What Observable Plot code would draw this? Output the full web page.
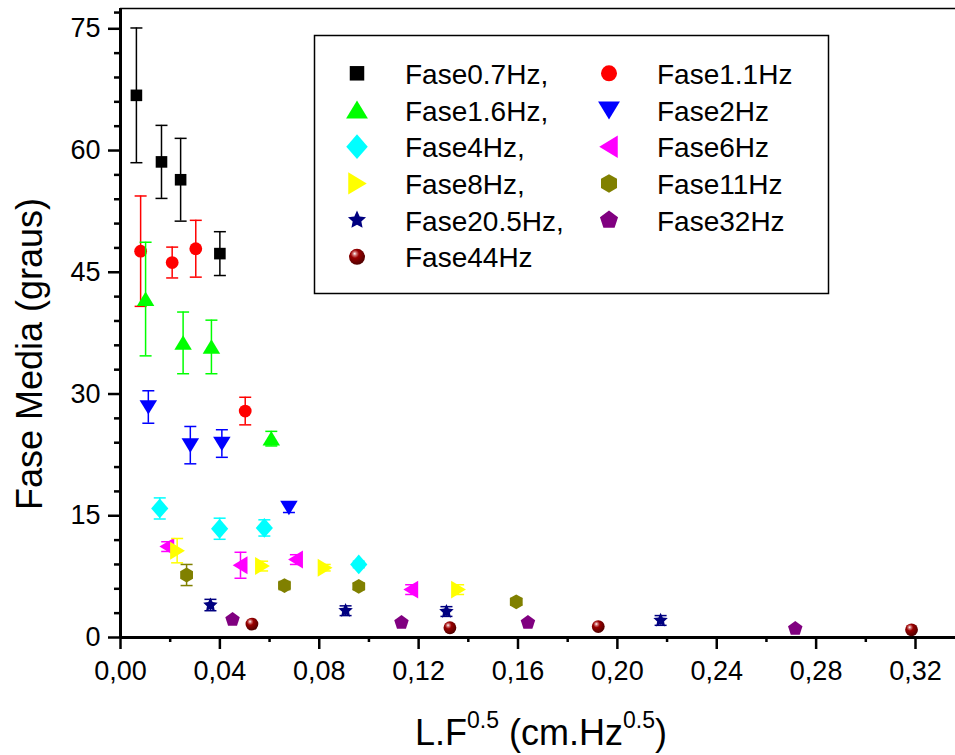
<!DOCTYPE html>
<html>
<head>
<meta charset="utf-8">
<script src="https://cdn.jsdelivr.net/npm/d3@7"></script>
<script src="https://cdn.jsdelivr.net/npm/@observablehq/plot@0.6"></script>
<style>
  body { margin: 0; background: #fff; }
  #chart { width: 955px; height: 755px; }
</style>
</head>
<body>
<div id="chart"></div>
<script>
// ---- Data ----
const seriesNames = ["Fase0.7Hz,", "Fase1.1Hz", "Fase1.6Hz,", "Fase2Hz", "Fase4Hz,", "Fase6Hz",
                     "Fase8Hz,", "Fase11Hz", "Fase20.5Hz,", "Fase32Hz", "Fase44Hz"];

const f07x = [0.0064, 0.0165, 0.0242, 0.0400];
const f07y = [66.8, 58.6, 56.4, 47.3];
const f07e = [8.3, 4.5, 5.1, 2.7];

const f11x = [0.0081, 0.0208, 0.0303, 0.0502];
const f11y = [47.6, 46.2, 47.9, 27.9];
const f11e = [6.8, 1.9, 3.5, 1.7];

const f16x = [0.0101, 0.0252, 0.0366, 0.0607];
const f16y = [41.7, 36.3, 35.8, 24.5];
const f16e = [7.0, 3.8, 3.3, 0.9];

const f2x = [0.0112, 0.0281, 0.0408, 0.0678];
const f2y = [28.4, 23.7, 23.9, 16.0];
const f2e = [2.0, 2.3, 1.7, 0.6];

const f4x = [0.0158, 0.0399, 0.0579, 0.0959];
const f4y = [15.9, 13.4, 13.5, 9.0];
const f4e = [1.3, 1.3, 1.0, 0.4];

const f6x = [0.0188, 0.0483, 0.0706, 0.1170];
const f6y = [11.2, 8.9, 9.6, 5.9];
const f6e = [0.6, 1.6, 0.6, 0.6];

const f8x = [0.0228, 0.0570, 0.0822, 0.1359];
const f8y = [10.7, 8.8, 8.6, 5.9];
const f8e = [1.5, 0.6, 0.4, 0.6];

const f11hx = [0.0266, 0.0660, 0.0959, 0.1593];
const f11hy = [7.7, 6.4, 6.3, 4.4];
const f11he = [1.3, 0.5, 0.4, 0.4];

const f205x = [0.0362, 0.0906, 0.1312, 0.2174];
const f205y = [4.0, 3.3, 3.2, 2.1];
const f205e = [0.7, 0.6, 0.6, 0.6];

const f32x = [0.0451, 0.1131, 0.1640, 0.2716];
const f32y = [2.2, 1.85, 1.85, 1.1];
const f32e = [0, 0, 0, 0];

const f44x = [0.0529, 0.1326, 0.1923, 0.3184];
const f44y = [1.65, 1.2, 1.35, 0.95];
const f44e = [0, 0, 0, 0];

const xTicks = [0, 0.04, 0.08, 0.12, 0.16, 0.20, 0.24, 0.28, 0.32];
const xMinorTicks = [0.02, 0.06, 0.10, 0.14, 0.18, 0.22, 0.26, 0.30];
const yTicks = [0, 15, 30, 45, 60, 75];
const yMinorTicks = [3, 6, 9, 12, 18, 21, 24, 27, 33, 36, 39, 42, 48, 51, 54, 57, 63, 66, 69, 72, 77];

// ---- Symbols ----
function sym(f) { return { draw(ctx, size) { const r = Math.sqrt(size / Math.PI); f(ctx, r); } }; }
function poly(ctx, pts) {
  ctx.moveTo(pts[0][0], pts[0][1]);
  for (let i = 1; i < pts.length; i++) ctx.lineTo(pts[i][0], pts[i][1]);
  ctx.closePath();
}
function regular(n, r, rot) {
  const p = [];
  for (let k = 0; k < n; k++) { const a = rot + k * 2 * Math.PI / n; p.push([r * Math.cos(a), r * Math.sin(a)]); }
  return p;
}
const SQUARE = sym((c, r) => c.rect(-r, -r, 2 * r, 2 * r));
const CIRCLE = sym((c, r) => { c.moveTo(r, 0); c.arc(0, 0, r, 0, 2 * Math.PI); });
const TRI_UP = sym((c, r) => poly(c, [[0, -r], [1.15 * r, 0.9 * r], [-1.15 * r, 0.9 * r]]));
const TRI_DOWN = sym((c, r) => poly(c, [[0, r], [1.15 * r, -0.9 * r], [-1.15 * r, -0.9 * r]]));
const TRI_LEFT = sym((c, r) => poly(c, [[-r, 0], [0.9 * r, -1.15 * r], [0.9 * r, 1.15 * r]]));
const TRI_RIGHT = sym((c, r) => poly(c, [[r, 0], [-0.9 * r, -1.15 * r], [-0.9 * r, 1.15 * r]]));
const DIAMOND = sym((c, r) => poly(c, [[0, -1.15 * r], [r, 0], [0, 1.15 * r], [-r, 0]]));
const HEXAGON = sym((c, r) => poly(c, regular(6, r, -Math.PI / 2)));
const PENTAGON = sym((c, r) => poly(c, regular(5, r, -Math.PI / 2)));
const STAR = sym((c, r) => {
  const p = [];
  for (let k = 0; k < 10; k++) {
    const a = -Math.PI / 2 + k * Math.PI / 5, rr = k % 2 ? r * 0.48 : r;
    p.push([rr * Math.cos(a), rr * Math.sin(a)]);
  }
  poly(c, p);
});
const CAP = sym((c, r) => { c.moveTo(-r, 0); c.lineTo(r, 0); });

const seriesX = [f07x, f11x, f16x, f2x, f4x, f6x, f8x, f11hx, f205x, f32x, f44x];
const seriesY = [f07y, f11y, f16y, f2y, f4y, f6y, f8y, f11hy, f205y, f32y, f44y];
const seriesE = [f07e, f11e, f16e, f2e, f4e, f6e, f8e, f11he, f205e, f32e, f44e];
const colors = ["#000000", "#ff0000", "#00ff00", "#0000ff", "#00ffff", "#ff00ff",
                "#ffff00", "#808000", "#000080", "#800080", "url(#sph)"];
const symbols = [SQUARE, CIRCLE, TRI_UP, TRI_DOWN, DIAMOND, TRI_LEFT, TRI_RIGHT, HEXAGON, STAR, PENTAGON, CIRCLE];
const radii = [5.8, 6.4, 7.6, 7.6, 8.6, 7.8, 7.8, 7.4, 7.6, 7.6, 6.4];

const marks = [];
seriesNames.forEach((name, i) => {
  const rows = seriesX[i].map((x, j) => ({ x, y: seriesY[i][j], e: seriesE[i][j] }));
  const withErr = rows.filter(d => d.e > 0);
  const c = colors[i];
  if (withErr.length) {
    marks.push(Plot.ruleX(withErr, { x: "x", y1: d => d.y - d.e, y2: d => d.y + d.e, stroke: c, strokeWidth: 1.5 }));
    marks.push(Plot.dot(withErr, { x: "x", y: d => d.y + d.e, symbol: CAP, r: 6, stroke: c, fill: "none", strokeWidth: 1.5 }));
    marks.push(Plot.dot(withErr, { x: "x", y: d => d.y - d.e, symbol: CAP, r: 6, stroke: c, fill: "none", strokeWidth: 1.5 }));
  }
  marks.push(Plot.dot(rows, { x: "x", y: "y", symbol: symbols[i], r: radii[i], fill: c, stroke: "none" }));
});

const yMax = 77.5;
const fmt = d => d3.format(".2f")(d).replace(".", ",");

const chart = Plot.plot({
  width: 955,
  height: 755,
  marginLeft: 120,
  marginRight: 0,
  marginTop: 8,
  marginBottom: 118,
  style: { fontFamily: "'Liberation Sans', Arial, sans-serif", fontSize: "27px", color: "#000", background: "#fff", overflow: "visible" },
  x: { domain: [0, 0.3361], label: null },
  y: { domain: [0, yMax], label: null },
  marks: [
    Plot.axisY(yMinorTicks, { tickSize: 6, tickFormat: () => "", strokeWidth: 2.5, label: null }),
    Plot.axisY(yTicks, { tickSize: 12, tickPadding: 8, fontSize: 27, strokeWidth: 2.5, label: null }),
    Plot.axisX(xMinorTicks, { tickSize: 5, tickFormat: () => "", strokeWidth: 2.5, label: null }),
    Plot.axisX(xTicks, { tickSize: 12, tickPadding: 11, fontSize: 27, strokeWidth: 2.5, tickFormat: fmt, label: null }),
    Plot.ruleY([yMax], { strokeWidth: 1.5 }),
    Plot.ruleY([0], { strokeWidth: 3 }),
    Plot.ruleX([0], { strokeWidth: 3 }),
    ...marks
  ]
});

document.getElementById("chart").appendChild(chart);

const svg = d3.select(chart);
// sphere gradient
const defs = svg.insert("defs", ":first-child");
const g = defs.append("radialGradient").attr("id", "sph").attr("cx", "40%").attr("cy", "35%").attr("r", "65%").attr("fx", "35%").attr("fy", "30%");
g.append("stop").attr("offset", "0%").attr("stop-color", "#ffffff");
g.append("stop").attr("offset", "18%").attr("stop-color", "#d07070");
g.append("stop").attr("offset", "40%").attr("stop-color", "#990000");
g.append("stop").attr("offset", "100%").attr("stop-color", "#500000");

// axis titles
const xl = svg.append("text").attr("x", 541).attr("y", 745).attr("text-anchor", "middle")
  .attr("font-size", 36).attr("fill", "#000");
xl.append("tspan").text("L.F");
xl.append("tspan").attr("font-size", 23).attr("dy", -17).text("0.5");
xl.append("tspan").attr("dy", 17).text(" (cm.Hz");
xl.append("tspan").attr("font-size", 23).attr("dy", -17).text("0.5");
xl.append("tspan").attr("dy", 17).text(")");

svg.append("text").attr("transform", "translate(42,354) rotate(-90)").attr("text-anchor", "middle")
  .attr("font-size", 36).attr("fill", "#000").text("Fase Media (graus)");

// legend
const leg = svg.append("g");
leg.append("rect").attr("x", 314.5).attr("y", 35.5).attr("width", 514).attr("height", 258)
  .attr("fill", "#fff").attr("stroke", "#000").attr("stroke-width", 1.5);
const colMarkX = [357, 609], colTextX = [405, 657];
const rowY0 = 73.3, rowStep = 36.7;
const legendOrder = [0, 2, 4, 6, 8, 10, 1, 3, 5, 7, 9];
legendOrder.forEach((si, k) => {
  const col = k < 6 ? 0 : 1;
  const row = k < 6 ? k : k - 6;
  const cy = rowY0 + row * rowStep;
  const rr = radii[si] * 1.25;
  leg.append("path")
    .attr("transform", `translate(${colMarkX[col]},${cy})`)
    .attr("d", d3.symbol(symbols[si], rr * rr * Math.PI)())
    .attr("fill", colors[si]);
  leg.append("text").attr("x", colTextX[col]).attr("y", cy + 10.5).attr("text-anchor", "start")
    .attr("font-size", 28).attr("fill", "#000").text(seriesNames[si]);
});
</script>
</body>
</html>
